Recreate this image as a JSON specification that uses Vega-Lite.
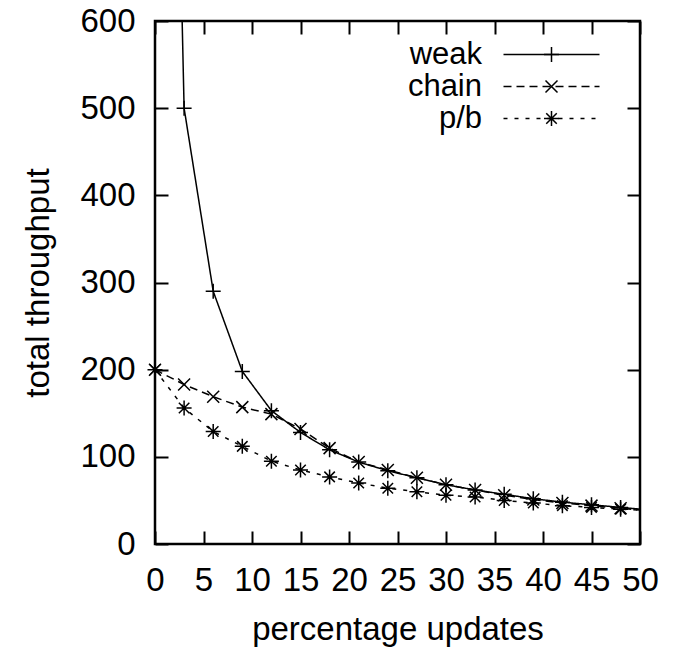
{
  "$schema": "https://vega.github.io/schema/vega-lite/v6.json",
  "width": 485,
  "height": 523,
  "autosize": "none",
  "padding": {"left": 155, "top": 21, "right": 42, "bottom": 104},
  "background": "white",
  "config": {
    "view": {"stroke": "black", "strokeWidth": 2.5},
    "font": "Liberation Sans"
  },
  "data": {
    "values": [
      {"updates": 0, "throughput": 2000, "scheme": "weak"},
      {"updates": 3, "throughput": 500, "scheme": "weak"},
      {"updates": 6, "throughput": 290, "scheme": "weak"},
      {"updates": 9, "throughput": 198, "scheme": "weak"},
      {"updates": 12, "throughput": 153, "scheme": "weak"},
      {"updates": 15, "throughput": 128, "scheme": "weak"},
      {"updates": 18, "throughput": 108, "scheme": "weak"},
      {"updates": 21, "throughput": 94, "scheme": "weak"},
      {"updates": 24, "throughput": 84, "scheme": "weak"},
      {"updates": 27, "throughput": 76, "scheme": "weak"},
      {"updates": 30, "throughput": 68, "scheme": "weak"},
      {"updates": 33, "throughput": 62, "scheme": "weak"},
      {"updates": 36, "throughput": 57, "scheme": "weak"},
      {"updates": 39, "throughput": 52, "scheme": "weak"},
      {"updates": 42, "throughput": 48, "scheme": "weak"},
      {"updates": 45, "throughput": 45, "scheme": "weak"},
      {"updates": 48, "throughput": 42, "scheme": "weak"},
      {"updates": 50, "throughput": 40, "scheme": "weak"},
      {"updates": 0, "throughput": 200, "scheme": "chain"},
      {"updates": 3, "throughput": 183, "scheme": "chain"},
      {"updates": 6, "throughput": 169, "scheme": "chain"},
      {"updates": 9, "throughput": 157, "scheme": "chain"},
      {"updates": 12, "throughput": 149, "scheme": "chain"},
      {"updates": 15, "throughput": 132, "scheme": "chain"},
      {"updates": 18, "throughput": 110, "scheme": "chain"},
      {"updates": 21, "throughput": 94, "scheme": "chain"},
      {"updates": 24, "throughput": 85, "scheme": "chain"},
      {"updates": 27, "throughput": 76, "scheme": "chain"},
      {"updates": 30, "throughput": 68, "scheme": "chain"},
      {"updates": 33, "throughput": 62, "scheme": "chain"},
      {"updates": 36, "throughput": 56, "scheme": "chain"},
      {"updates": 39, "throughput": 51, "scheme": "chain"},
      {"updates": 42, "throughput": 47, "scheme": "chain"},
      {"updates": 45, "throughput": 44, "scheme": "chain"},
      {"updates": 48, "throughput": 41, "scheme": "chain"},
      {"updates": 50, "throughput": 39, "scheme": "chain"},
      {"updates": 0, "throughput": 200, "scheme": "p/b"},
      {"updates": 3, "throughput": 156, "scheme": "p/b"},
      {"updates": 6, "throughput": 129, "scheme": "p/b"},
      {"updates": 9, "throughput": 112, "scheme": "p/b"},
      {"updates": 12, "throughput": 95, "scheme": "p/b"},
      {"updates": 15, "throughput": 85, "scheme": "p/b"},
      {"updates": 18, "throughput": 77, "scheme": "p/b"},
      {"updates": 21, "throughput": 70, "scheme": "p/b"},
      {"updates": 24, "throughput": 64, "scheme": "p/b"},
      {"updates": 27, "throughput": 60, "scheme": "p/b"},
      {"updates": 30, "throughput": 56, "scheme": "p/b"},
      {"updates": 33, "throughput": 54, "scheme": "p/b"},
      {"updates": 36, "throughput": 50, "scheme": "p/b"},
      {"updates": 39, "throughput": 47, "scheme": "p/b"},
      {"updates": 42, "throughput": 44, "scheme": "p/b"},
      {"updates": 45, "throughput": 42, "scheme": "p/b"},
      {"updates": 48, "throughput": 40, "scheme": "p/b"},
      {"updates": 50, "throughput": 39, "scheme": "p/b"}
    ]
  },
  "layer": [
    {
      "mark": {"type": "line", "color": "black", "strokeWidth": 1.5, "clip": true},
      "encoding": {
        "x": {
          "field": "updates", "type": "quantitative",
          "scale": {"domain": [0, 50], "nice": false},
          "axis": {"orient": "bottom", "tickCount": 10, "domain": false, "gridOpacity": 0, "tickSize": -13, "tickColor": "black", "tickWidth": 2, "labelFontSize": 33, "labelColor": "black", "labelPadding": 33, "labelFlush": false, "title": "percentage updates", "titleFontSize": 33, "titleFontWeight": "normal", "titleColor": "black", "titlePadding": 16}
        },
        "y": {
          "field": "throughput", "type": "quantitative",
          "scale": {"domain": [0, 600], "nice": false},
          "axis": {"orient": "left", "tickCount": 6, "domain": false, "gridOpacity": 0, "tickSize": -13, "tickColor": "black", "tickWidth": 2, "labelFontSize": 33, "labelColor": "black", "labelPadding": 33, "labelFlush": false, "title": "total throughput", "titleFontSize": 33, "titleFontWeight": "normal", "titleColor": "black", "titlePadding": 24}
        },
        "strokeDash": {
          "field": "scheme", "type": "nominal",
          "scale": {"domain": ["weak", "chain", "p/b"], "range": [[1, 0], [8, 5], [4, 7]]},
          "legend": {
            "orient": "none", "legendX": 381, "legendY": 18, "title": null, "padding": 0,
            "symbolType": "M-6.4,0H6.4", "symbolSize": 225, "symbolStrokeWidth": 1.5,
            "symbolStrokeColor": "black", "symbolFillColor": "transparent",
            "labelFontSize": 31, "labelFont": "Liberation Sans", "labelColor": "black",
            "labelAlign": "right", "labelOffset": -85, "rowPadding": 0
          }
        }
      }
    },
    {
      "transform": [{"filter": "datum.throughput <= 600 && datum.updates < 50"}],
      "mark": {"type": "point", "filled": false, "stroke": "black", "strokeWidth": 1.5, "size": 225, "opacity": 1},
      "encoding": {
        "x": {
          "field": "updates", "type": "quantitative",
          "axis": {"orient": "top", "tickCount": 10, "domain": false, "gridOpacity": 0, "tickSize": -13, "tickColor": "black", "tickWidth": 2, "labels": false, "title": null}
        },
        "y": {
          "field": "throughput", "type": "quantitative",
          "axis": {"orient": "right", "tickCount": 6, "domain": false, "gridOpacity": 0, "tickSize": -13, "tickColor": "black", "tickWidth": 2, "labels": false, "title": null}
        },
        "shape": {
          "field": "scheme", "type": "nominal",
          "scale": {"domain": ["p/b", "chain", "weak"], "range": [
            "M-1,0H1M0,-1V1M-0.7,-0.7L0.7,0.7M-0.7,0.7L0.7,-0.7",
            "M-0.8,-0.8L0.8,0.8M-0.8,0.8L0.8,-0.8",
            "M-1,0H1M0,-1V1"
          ]},
          "legend": {
            "orient": "none", "legendX": 381, "legendY": 18, "title": null, "padding": 0,
            "values": ["weak", "chain", "p/b"],
            "symbolSize": 225, "symbolStrokeWidth": 1.5,
            "symbolStrokeColor": "black", "symbolFillColor": "transparent",
            "labelFontSize": 31, "labelFont": "Liberation Sans", "labelOpacity": 0,
            "labelAlign": "right", "labelOffset": -85, "rowPadding": 0
          }
        }
      }
    }
  ],
  "resolve": {"axis": {"x": "independent", "y": "independent"}}
}
